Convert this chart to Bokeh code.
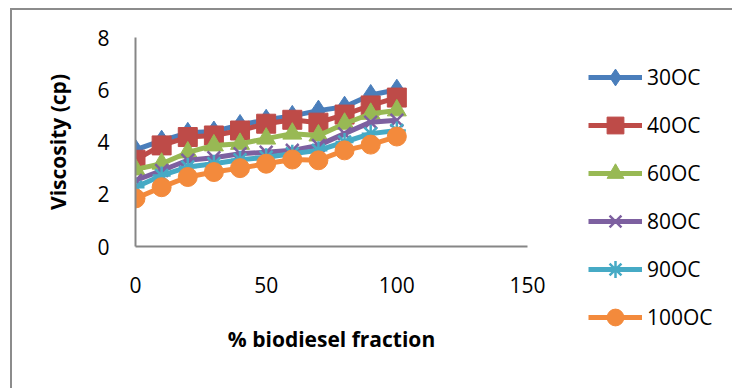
from bokeh.plotting import figure
from bokeh.models import Range1d, FixedTicker, Legend, LegendItem
from bokeh.embed import file_html
from bokeh.resources import INLINE

# % biodiesel fraction in the blend
fraction = [0, 10, 20, 30, 40, 50, 60, 70, 80, 90, 100]

# viscosity (cp) at each temperature
visc_30 = [3.70, 4.05, 4.35, 4.40, 4.65, 4.85, 5.00, 5.20, 5.35, 5.80, 6.00]
visc_40 = [3.32, 3.87, 4.19, 4.25, 4.44, 4.70, 4.85, 4.74, 5.05, 5.40, 5.70]
visc_60 = [2.95, 3.17, 3.60, 3.87, 3.93, 4.13, 4.32, 4.25, 4.70, 5.08, 5.21]
visc_80 = [2.53, 2.91, 3.30, 3.40, 3.55, 3.61, 3.68, 3.87, 4.32, 4.76, 4.83]
visc_90 = [2.27, 2.72, 3.04, 3.17, 3.32, 3.42, 3.55, 3.68, 4.00, 4.32, 4.44]
visc_100 = [1.84, 2.27, 2.66, 2.85, 3.00, 3.17, 3.33, 3.30, 3.68, 3.90, 4.21]

series_names = ["30OC", "40OC", "60OC", "80OC", "90OC", "100OC"]
x_ticks = [0, 50, 100, 150]
y_ticks = [0, 2, 4, 6, 8]

series = [visc_30, visc_40, visc_60, visc_80, visc_90, visc_100]
colors = ["#4A7EBB", "#BE4B48", "#98B954", "#7D60A0", "#46AAC5", "#F38A3C"]
markers = ["diamond", "square", "triangle", "x", "asterisk", "circle"]
sizes = [21, 19, 19, 18, 18, 19]

FONT = "Open Sans"

p = figure(
    frame_width=392, frame_height=209,
    x_range=Range1d(0, 150), y_range=Range1d(0, 8),
    output_backend="svg", toolbar_location=None,
    min_border_left=123, min_border_right=205,
    min_border_top=27, min_border_bottom=142,
    outline_line_color=None,
    styles={
        "margin-left": "10px",
        "margin-top": "8px",
        "border-left": "2px solid #8c8c8c",
        "border-top": "2px solid #8c8c8c",
    },
)
p.xgrid.visible = False
p.ygrid.visible = False

for ax in (p.xaxis[0], p.yaxis[0]):
    ax.axis_line_color = "#868686"
    ax.axis_line_width = 2
    ax.major_tick_line_color = None
    ax.minor_tick_line_color = None
    ax.major_tick_in = 0
    ax.major_tick_out = 0
    ax.minor_tick_in = 0
    ax.minor_tick_out = 0
    ax.major_label_text_font = FONT
    ax.major_label_text_font_size = "21px"
    ax.major_label_text_color = "black"
    ax.axis_label_text_font = FONT
    ax.axis_label_text_font_size = "21px"
    ax.axis_label_text_font_style = "bold"
    ax.axis_label_text_color = "black"

p.xaxis[0].ticker = FixedTicker(ticks=x_ticks)
p.yaxis[0].ticker = FixedTicker(ticks=y_ticks)
p.xaxis[0].axis_label = "% biodiesel fraction"
p.yaxis[0].axis_label = "Viscosity (cp)"
p.xaxis[0].major_label_standoff = 30
p.yaxis[0].major_label_standoff = 26
p.xaxis[0].axis_label_standoff = 29
p.yaxis[0].axis_label_standoff = 22

items = []
for name, vals, col, mk, sz in zip(series_names, series, colors, markers, sizes):
    ln = p.line(fraction, vals, line_color=col, line_width=5)
    if mk in ("x", "asterisk"):
        sc = p.scatter(fraction, vals, marker=mk, size=sz,
                       line_color=col, line_width=2.5, fill_color=None)
    else:
        sc = p.scatter(fraction, vals, marker=mk, size=sz,
                       fill_color=col, line_color=col, line_width=1)
    items.append(LegendItem(label=name, renderers=[ln, sc]))

legend = Legend(
    items=items,
    location=(61, -92),
    orientation="vertical",
    glyph_width=54, glyph_height=42,
    label_height=42, label_standoff=5,
    spacing=6, padding=0, margin=0,
    border_line_color=None, background_fill_alpha=0,
    label_text_font=FONT, label_text_font_size="21px",
    label_text_color="black",
)
p.add_layout(legend, "right")

open("out.html", "w").write(file_html(p, INLINE))
